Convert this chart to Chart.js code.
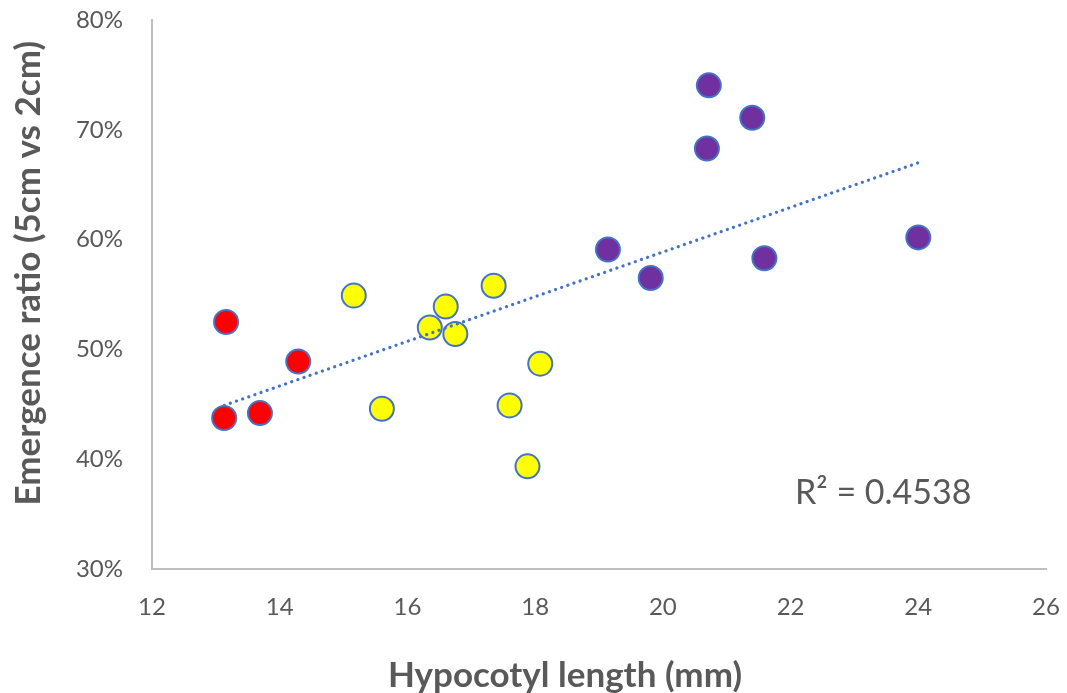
<!DOCTYPE html>
<html lang="en">
<head>
    <meta charset="UTF-8">
    <title>Emergence ratio vs hypocotyl length</title>
    <style>
        html, body { margin: 0; padding: 0; background: #fff; }
        #chart { display: block; }
    </style>
</head>
<body>
    <canvas id="chart" width="1067" height="693"></canvas>
    <script src="https://cdn.jsdelivr.net/npm/chart.js"></script>
    <script>
        // values (x in mm, y in %)
        const redX = [13.16, 13.13, 13.69, 14.29];
        const redY = [52.5, 43.75, 44.2, 48.9];

        const yellowX = [15.16, 16.6, 16.35, 16.75, 17.35, 18.08, 15.6, 17.6, 17.88];
        const yellowY = [54.9, 53.9, 52.0, 51.4, 55.8, 48.7, 44.6, 44.9, 39.35];

        const purpleX = [20.72, 21.4, 20.69, 19.14, 19.81, 21.59, 24.0];
        const purpleY = [74.05, 71.1, 68.3, 59.1, 56.5, 58.3, 60.2];

        // trendline ends as drawn in the picture
        const trendX = [13.13, 24.0];
        const trendY = [44.9, 67.0];

        const xTicks = [12, 14, 16, 18, 20, 22, 24, 26];
        const yTicks = [30, 40, 50, 60, 70, 80];
        const r2Label = 'R\u00B2 = 0.4538';

        const grey = '#595959';
        const markerBorder = '#4472C4';

        // the titles sit a little off the axis centre in the original, nudge with padding spaces
        const pad = n => '\u00A0'.repeat(n);

        function pts(xs, ys) {
            return xs.map((x, i) => ({ x: x, y: ys[i] }));
        }

        function markers(label, xs, ys, fill) {
            return {
                type: 'scatter',
                label: label,
                data: pts(xs, ys),
                backgroundColor: fill,
                borderColor: markerBorder,
                borderWidth: 2,
                pointRadius: 12,
                pointHoverRadius: 12
            };
        }

        const r2Text = {
            id: 'r2Text',
            afterDatasetsDraw(chart) {
                const { ctx } = chart;
                const xs = chart.scales.x, ys = chart.scales.y;
                ctx.save();
                ctx.font = '34px Lato, sans-serif';
                ctx.fillStyle = grey;
                ctx.textBaseline = 'middle';
                ctx.textAlign = 'left';
                ctx.fillText(r2Label, xs.getPixelForValue(22.07), ys.getPixelForValue(36.9));
                ctx.restore();
            }
        };

        new Chart(document.getElementById('chart').getContext('2d'), {
            data: {
                datasets: [
                    {
                        type: 'line',
                        label: 'trend',
                        data: pts(trendX, trendY),
                        borderColor: markerBorder,
                        borderWidth: 3.2,
                        borderDash: [0.1, 6.4],
                        borderCapStyle: 'round',
                        pointRadius: 0,
                        fill: false
                    },
                    markers('red', redX, redY, '#FF0000'),
                    markers('yellow', yellowX, yellowY, '#FFFF00'),
                    markers('purple', purpleX, purpleY, '#7030A0')
                ]
            },
            plugins: [r2Text],
            options: {
                responsive: false,
                animation: false,
                layout: { padding: 0 },
                plugins: {
                    legend: { display: false },
                    tooltip: { enabled: false }
                },
                scales: {
                    x: {
                        type: 'linear',
                        min: 12,
                        max: 26,
                        afterBuildTicks(axis) { axis.ticks = xTicks.map(v => ({ value: v })); },
                        afterFit(axis) {
                            axis.height = 124;
                            axis.paddingLeft = 0;
                            axis.paddingRight = 21;
                        },
                        grid: { display: false },
                        border: { display: true, color: '#BFBFBF', width: 2 },
                        ticks: {
                            padding: 16,
                            color: grey,
                            font: { family: 'Lato', size: 24 }
                        },
                        title: {
                            display: true,
                            text: 'Hypocotyl length (mm)' + pad(8),
                            color: grey,
                            font: { family: 'Lato', size: 35, weight: 'bold', lineHeight: 1.0 },
                            padding: { top: 0, bottom: 0 }
                        }
                    },
                    y: {
                        type: 'linear',
                        min: 30,
                        max: 80,
                        afterBuildTicks(axis) { axis.ticks = yTicks.map(v => ({ value: v })); },
                        afterFit(axis) {
                            axis.width = 152;
                            axis.paddingTop = 20;
                            axis.paddingBottom = 0;
                        },
                        grid: { display: false },
                        border: { display: true, color: '#BFBFBF', width: 2 },
                        ticks: {
                            padding: 21,
                            color: grey,
                            font: { family: 'Lato', size: 24 },
                            callback: v => v + '%'
                        },
                        title: {
                            display: true,
                            text: pad(5) + 'Emergence ratio (5cm vs 2cm)',
                            color: grey,
                            font: { family: 'Lato', size: 35, weight: 'bold' },
                            padding: { top: 8, bottom: 0 }
                        }
                    }
                }
            }
        });
    </script>
</body>
</html>
